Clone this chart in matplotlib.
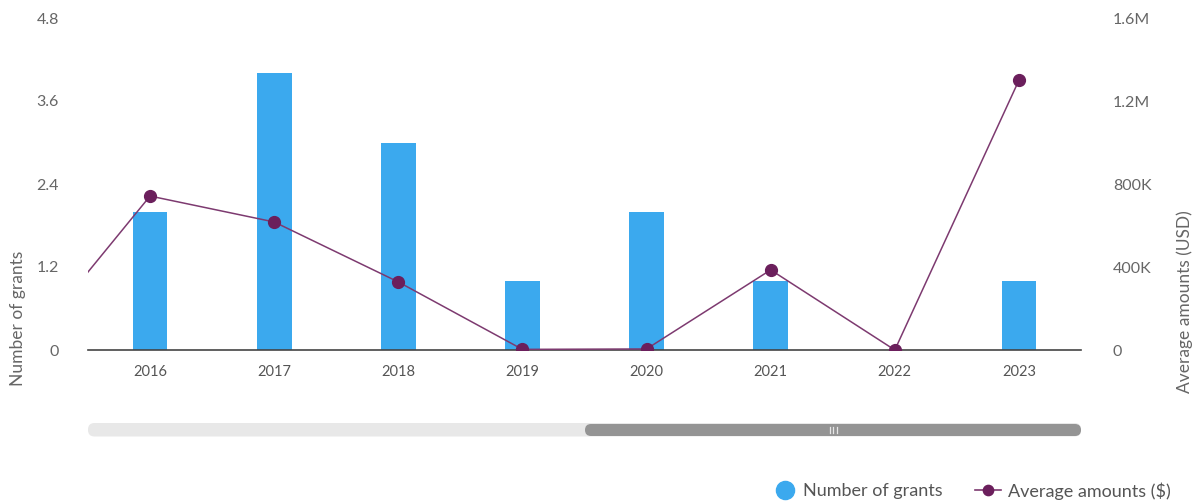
import matplotlib
matplotlib.use("Agg")
import matplotlib.pyplot as plt
from matplotlib.patches import FancyBboxPatch
import numpy as np

years = ["2016", "2017", "2018", "2019", "2020", "2021", "2022", "2023"]
grants = [2, 4, 3, 1, 2, 1, 0, 1]
# average amount line includes an off-screen 2015 point (scrolled chart)
line_years = ["2015", "2016", "2017", "2018", "2019", "2020", "2021", "2022", "2023"]
avg_amounts = [10000, 742000, 617000, 328000, 3000, 5000, 386000, 0, 1300000]
left_ticks = [0, 1.2, 2.4, 3.6, 4.8]
left_labels = ["0", "1.2", "2.4", "3.6", "4.8"]
right_ticks = [0, 400000, 800000, 1200000, 1600000]
right_labels = ["0", "400K", "800K", "1.2M", "1.6M"]

BLUE = "#3ba9ee"
PURPLE = "#6b1f5c"
LINEC = "#7d3a70"
TXT = "#666666"

plt.rcParams["font.family"] = ["Lato", "DejaVu Sans"]

W, H = 1203, 503
fig = plt.figure(figsize=(W / 100, H / 100), dpi=100)
L, R, T, B = 88, 1081, 18, 350
ax = fig.add_axes([L / W, (H - B) / H, (R - L) / W, (B - T) / H])

x = np.arange(len(years))
ax.bar(x, grants, width=0.28, color=BLUE, zorder=2)
ax.set_xlim(-0.5, len(years) - 0.5)
ax.set_ylim(0, 4.8)
ax.set_yticks(left_ticks)
ax.set_yticklabels(left_labels)
ax.set_xticks(x)
ax.set_xticklabels(years)

ax2 = ax.twinx()
lx = np.arange(len(line_years)) - 1
ax2.plot(lx, avg_amounts, color=LINEC, lw=1.1, zorder=3)
ax2.plot(lx, avg_amounts, color=PURPLE, lw=0, marker="o", markersize=8.5, zorder=4)
ax2.set_ylim(0, 1600000)
ax2.set_yticks(right_ticks)
ax2.set_yticklabels(right_labels)
ax2.set_xlim(-0.5, len(years) - 0.5)

for a in (ax, ax2):
    for s in a.spines.values():
        s.set_visible(False)
    a.tick_params(length=0, colors=TXT, labelsize=11.5)
ax.spines["bottom"].set_visible(True)
ax.spines["bottom"].set_color("#444444")
ax.spines["bottom"].set_linewidth(1.2)
ax.tick_params(axis="x", pad=11, labelsize=10.5, colors="#555555")
ax.tick_params(axis="y", pad=21)
ax2.tick_params(axis="y", pad=23)

fig.text(18 / W, 1 - 318 / H, "Number of grants", rotation=90, ha="center", va="center",
         color=TXT, fontsize=12.5)
fig.text(1185 / W, 1 - 302 / H, "Average amounts (USD)", rotation=90, ha="center", va="center",
         color=TXT, fontsize=12.5)

# scrollbar
axs = fig.add_axes([0, 0, 1, 1], facecolor="none")
axs.set_xlim(0, W)
axs.set_ylim(H, 0)
axs.axis("off")
axs.add_patch(FancyBboxPatch((88, 423), 993, 13.5,
                             boxstyle="round,pad=0,rounding_size=6.5",
                             fc="#e8e8e8", ec="none"))
axs.add_patch(FancyBboxPatch((585, 424), 1081 - 585, 12,
                             boxstyle="round,pad=0,rounding_size=6",
                             fc="#949494", ec="none"))
for gx in (829.5, 833, 836.5):
    axs.plot([gx, gx], [427, 433], color="#e6e6e6", lw=0.9)

# legend
axs.scatter([785], [490], s=170, color=BLUE)
axs.text(803, 491, "Number of grants", va="center", ha="left", color="#555555", fontsize=13)
axs.plot([975, 1001], [490, 490], color=LINEC, lw=1.2)
axs.scatter([988], [490], s=55, color=PURPLE, zorder=3)
axs.text(1008, 491, "Average amounts ($)", va="center", ha="left", color="#555555", fontsize=13)

fig.savefig("out.png", dpi=100)
